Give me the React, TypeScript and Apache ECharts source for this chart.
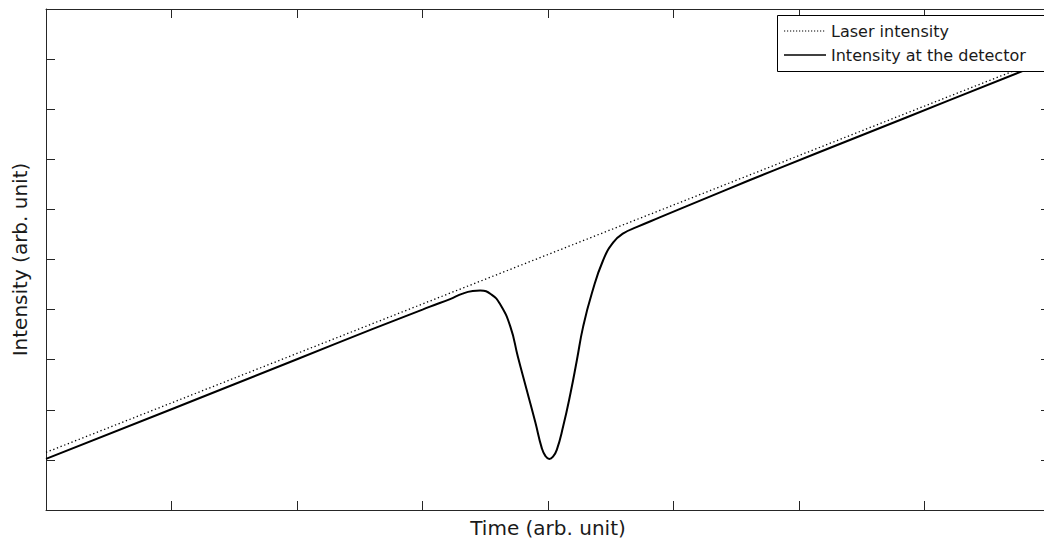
import React, { useEffect, useRef } from "react";
import * as echarts from "echarts";

// Time axis (arb. unit) and intensity axis (arb. unit) ranges
const timeMin = 0;
const timeMax = 8;
const intensityMin = 0;
const intensityMax = 10;

// Laser intensity: a linear ramp
const laserTime = [0, 8];
const laserValue = [1.15, 9.05];

// Intensity at the detector: follows the ramp with an absorption dip near t = 4
const detectorTime = [
  0, 1, 2, 2.6, 3.0, 3.06, 3.22, 3.32, 3.4, 3.46, 3.55, 3.62, 3.7, 3.76, 3.83,
  3.9, 3.95, 3.98, 4.01, 4.04, 4.07, 4.12, 4.18, 4.23, 4.28, 4.35, 4.44, 4.52,
  4.6, 4.71, 4.89, 5.13, 5.4, 5.8, 6.5, 7.2, 8,
];
const detectorValue = [
  1.02, 2.01, 3.01, 3.61, 4.0, 4.06, 4.21, 4.32, 4.37, 4.38, 4.3, 4.1, 3.66,
  3.06, 2.4, 1.74, 1.24, 1.075, 1.02, 1.065, 1.2, 1.66, 2.34, 2.99, 3.66, 4.33,
  4.99, 5.34, 5.52, 5.65, 5.84, 6.09, 6.37, 6.78, 7.48, 8.18, 8.98,
];

const seriesNames = ["Laser intensity", "Intensity at the detector"];
const axisNames = ["Time (arb. unit)", "Intensity (arb. unit)"];

const FONT = "DejaVu Sans";
const FRAME = "#262626";

function pairs(xs: number[], ys: number[]) {
  return xs.map((x, i) => [x, ys[i]]);
}

// Legend keys: a solid bar and a row of small dots, 42px wide
const SAMPLE_W = 42;
const solidKey = `path://M0,0h${SAMPLE_W}v1.6h-${SAMPLE_W}z`;
const dottedKey =
  "path://" +
  Array.from({ length: 14 }, (_, i) => `M${i * 3},0h1.2v1.2h-1.2z`).join(" ") +
  ` M${SAMPLE_W - 0.01},0h0.01v1.2h-0.01z`;

export default function App() {
  const ref = useRef<HTMLDivElement>(null);

  useEffect(() => {
    if (!ref.current) return;
    const chart = echarts.init(ref.current, undefined, { renderer: "svg" });

    // Box-style axes: every side has a line and inward ticks, no labels
    const tickAxis = {
      axisLine: { show: true, onZero: false, lineStyle: { color: FRAME, width: 1 } },
      axisTick: { show: true, inside: true, length: 9, lineStyle: { color: FRAME, width: 1 } },
      axisLabel: { show: false },
      splitLine: { show: false },
    };

    chart.setOption({
      animation: false,
      backgroundColor: "#ffffff",
      grid: { left: 46, top: 9, width: 1004, height: 501, containLabel: false },
      xAxis: [
        {
          type: "value",
          min: timeMin,
          max: timeMax,
          interval: 1,
          position: "bottom",
          name: axisNames[0],
          nameLocation: "middle",
          nameGap: 8,
          nameTextStyle: { fontFamily: FONT, fontSize: 20, color: "#1a1a1a", verticalAlign: "top" },
          ...tickAxis,
        },
        {
          type: "value",
          min: timeMin,
          max: timeMax,
          interval: 1,
          position: "top",
          ...tickAxis,
        },
      ],
      yAxis: [
        {
          type: "value",
          min: intensityMin,
          max: intensityMax,
          interval: 1,
          position: "left",
          name: axisNames[1],
          nameLocation: "middle",
          nameGap: 16,
          nameTextStyle: { fontFamily: FONT, fontSize: 20, color: "#1a1a1a" },
          ...tickAxis,
        },
        {
          type: "value",
          min: intensityMin,
          max: intensityMax,
          interval: 1,
          position: "right",
          ...tickAxis,
        },
      ],
      // Legend frame: runs past the right edge of the view, like the plot box
      graphic: {
        z: 10,
        elements: [
          {
            type: "rect",
            z: 10,
            silent: true,
            shape: { x: 777.5, y: 15.5, width: 300, height: 56 },
            style: { fill: "#ffffff", stroke: "#000000", lineWidth: 1 },
          },
        ],
      },
      legend: {
        left: 777,
        top: 15,
        z: 20,
        orient: "vertical",
        data: [
          { name: seriesNames[0], icon: dottedKey },
          { name: seriesNames[1], icon: solidKey },
        ],
        symbolKeepAspect: true,
        backgroundColor: "transparent",
        borderWidth: 0,
        padding: [8, 4, 8, 7],
        itemWidth: SAMPLE_W,
        itemHeight: 16,
        itemGap: 8,
        itemStyle: { color: "#000000", borderWidth: 0 },
        textStyle: { fontFamily: FONT, fontSize: 16, color: "#1a1a1a", lineHeight: 16 },
      },
      series: [
        {
          name: seriesNames[0],
          type: "line",
          z: 1,
          data: pairs(laserTime, laserValue),
          showSymbol: false,
          symbol: "none",
          lineStyle: { color: "#000000", width: 1.3, type: [1.3, 2.6] },
          itemStyle: { color: "#000000" },
        },
        {
          name: seriesNames[1],
          type: "line",
          z: 1,
          data: pairs(detectorTime, detectorValue),
          showSymbol: false,
          symbol: "none",
          smooth: 0.5,
          lineStyle: { color: "#000000", width: 2 },
          itemStyle: { color: "#000000" },
        },
      ],
    });

    return () => chart.dispose();
  }, []);

  return (
    <div
      ref={ref}
      style={{ position: "fixed", left: 0, top: 0, width: 1052, height: 543, background: "#fff" }}
    />
  );
}
